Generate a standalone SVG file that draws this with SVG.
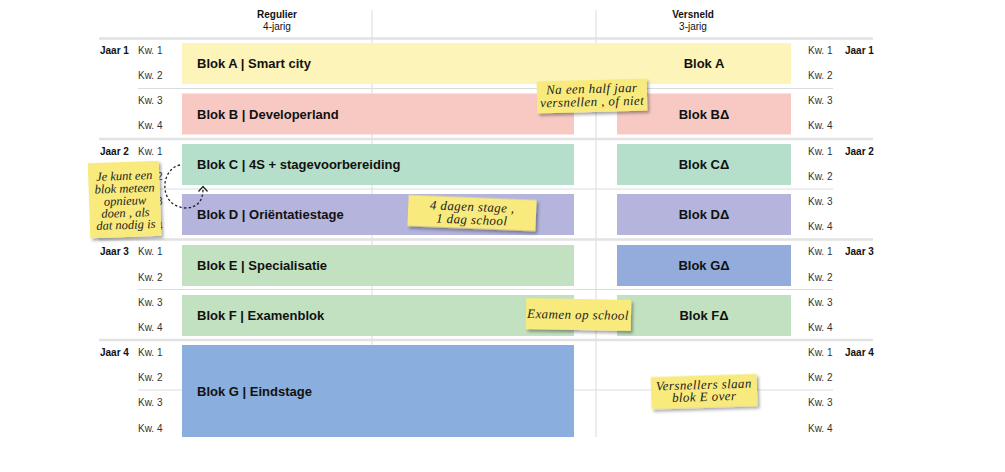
<svg xmlns="http://www.w3.org/2000/svg" width="1005" height="472" viewBox="0 0 1005 472">
  <defs>
    <style>
      .hdr { font-family: "Liberation Sans", Arial, sans-serif; font-size: 10px; fill: #111; text-anchor: middle; }
      .hdr-b { font-weight: bold; }
      .kw { font-family: "Liberation Sans", Arial, sans-serif; font-size: 10px; fill: #333; }
      .jaar { font-family: "Liberation Sans", Arial, sans-serif; font-size: 10px; font-weight: bold; fill: #111; }
      .blk { font-family: "Liberation Sans", Arial, sans-serif; font-size: 13px; font-weight: bold; fill: #111; }
      .blk-c { text-anchor: middle; }
      .yline { stroke: #e2e2e2; stroke-width: 2.5; }
      .hline { stroke: #dcdcdc; stroke-width: 1; }
      .vline { stroke: #dadada; stroke-width: 1; }
      .note { fill: #f8ea7c; }
      .note-t { font-family: "Liberation Serif", "DejaVu Serif", serif; font-style: italic; font-size: 13px; letter-spacing: 0.4px; fill: #222; text-anchor: middle; }
      .note-s { font-size: 12.5px; letter-spacing: 0; }
      .conn { fill: none; stroke: #222; stroke-width: 1.3; stroke-dasharray: 2.4 2.2; }
    </style>
    <filter id="shadow" x="-20%" y="-20%" width="150%" height="160%">
      <feDropShadow dx="2" dy="2.5" stdDeviation="1.4" flood-color="#000" flood-opacity="0.35"/>
    </filter>
  </defs>

  <rect width="1005" height="472" fill="#fff"/>

  <!-- grid -->
  <g id="grid">
    <line class="vline" x1="372" y1="10" x2="372" y2="437"/>
    <line class="vline" x1="596" y1="10" x2="596" y2="437"/>
    <line class="yline" x1="99" y1="38.5" x2="873" y2="38.5"/>
    <line class="yline" x1="99" y1="139" x2="873" y2="139"/>
    <line class="yline" x1="99" y1="239.5" x2="873" y2="239.5"/>
    <line class="yline" x1="99" y1="340" x2="873" y2="340"/>
    <line class="hline" x1="138" y1="88.5" x2="833" y2="88.5"/>
    <line class="hline" x1="138" y1="189" x2="833" y2="189"/>
    <line class="hline" x1="138" y1="289.5" x2="833" y2="289.5"/>
    <line class="hline" x1="138" y1="390" x2="833" y2="390"/>
  </g>

  <!-- column headers -->
  <g id="headers">
    <text class="hdr hdr-b" x="277" y="18">Regulier</text>
    <text class="hdr" x="277" y="30">4-jarig</text>
    <text class="hdr hdr-b" x="693" y="18">Versneld</text>
    <text class="hdr" x="693" y="30">3-jarig</text>
  </g>

  <!-- row labels, left -->
  <g id="labels-left">
    <text class="jaar" x="100" y="54">Jaar 1</text>
    <text class="jaar" x="100" y="155">Jaar 2</text>
    <text class="jaar" x="100" y="255">Jaar 3</text>
    <text class="jaar" x="100" y="356">Jaar 4</text>
    <text class="kw" x="138" y="54">Kw. 1</text>
    <text class="kw" x="138" y="79">Kw. 2</text>
    <text class="kw" x="138" y="104">Kw. 3</text>
    <text class="kw" x="138" y="129">Kw. 4</text>
    <text class="kw" x="138" y="155">Kw. 1</text>
    <text class="kw" x="138" y="180">Kw. 2</text>
    <text class="kw" x="138" y="205">Kw. 3</text>
    <text class="kw" x="138" y="230">Kw. 4</text>
    <text class="kw" x="138" y="255">Kw. 1</text>
    <text class="kw" x="138" y="281">Kw. 2</text>
    <text class="kw" x="138" y="306">Kw. 3</text>
    <text class="kw" x="138" y="331">Kw. 4</text>
    <text class="kw" x="138" y="356">Kw. 1</text>
    <text class="kw" x="138" y="381">Kw. 2</text>
    <text class="kw" x="138" y="406">Kw. 3</text>
    <text class="kw" x="138" y="432">Kw. 4</text>
  </g>

  <!-- row labels, right -->
  <g id="labels-right">
    <text class="jaar" x="845" y="54">Jaar 1</text>
    <text class="jaar" x="845" y="155">Jaar 2</text>
    <text class="jaar" x="845" y="255">Jaar 3</text>
    <text class="jaar" x="845" y="356">Jaar 4</text>
    <text class="kw" x="808" y="54">Kw. 1</text>
    <text class="kw" x="808" y="79">Kw. 2</text>
    <text class="kw" x="808" y="104">Kw. 3</text>
    <text class="kw" x="808" y="129">Kw. 4</text>
    <text class="kw" x="808" y="155">Kw. 1</text>
    <text class="kw" x="808" y="180">Kw. 2</text>
    <text class="kw" x="808" y="205">Kw. 3</text>
    <text class="kw" x="808" y="230">Kw. 4</text>
    <text class="kw" x="808" y="255">Kw. 1</text>
    <text class="kw" x="808" y="281">Kw. 2</text>
    <text class="kw" x="808" y="306">Kw. 3</text>
    <text class="kw" x="808" y="331">Kw. 4</text>
    <text class="kw" x="808" y="356">Kw. 1</text>
    <text class="kw" x="808" y="381">Kw. 2</text>
    <text class="kw" x="808" y="406">Kw. 3</text>
    <text class="kw" x="808" y="432">Kw. 4</text>
  </g>

  <!-- blocks: regular track -->
  <g id="blok-a">
    <rect x="182" y="43" width="609" height="41" fill="#fdf4b9"/>
    <text class="blk" x="197" y="68">Blok A | Smart city</text>
    <text class="blk blk-c" x="704" y="68">Blok A</text>
  </g>
  <g id="blok-b">
    <rect x="182" y="93.5" width="392" height="41" fill="#f8c9c3"/>
    <text class="blk" x="197" y="118.5">Blok B | Developerland</text>
  </g>
  <g id="blok-c">
    <rect x="182" y="144" width="392" height="41" fill="#b5dfca"/>
    <text class="blk" x="197" y="169">Blok C | 4S + stagevoorbereiding</text>
  </g>
  <g id="blok-d">
    <rect x="182" y="194" width="392" height="41" fill="#b4b4dc"/>
    <text class="blk" x="197" y="219">Blok D | Oriëntatiestage</text>
  </g>
  <g id="blok-e">
    <rect x="182" y="245" width="392" height="41" fill="#c2e1c0"/>
    <text class="blk" x="197" y="270">Blok E | Specialisatie</text>
  </g>
  <g id="blok-f">
    <rect x="182" y="295" width="392" height="41" fill="#c2e1c0"/>
    <text class="blk" x="197" y="320">Blok F | Examenblok</text>
  </g>
  <g id="blok-g">
    <rect x="182" y="345" width="392" height="92" fill="#8aaedd"/>
    <text class="blk" x="197" y="396">Blok G | Eindstage</text>
  </g>

  <!-- blocks: accelerated track -->
  <g id="blok-b-delta">
    <rect x="617" y="93.5" width="174" height="41" fill="#f8c9c3"/>
    <text class="blk blk-c" x="704" y="118.5">Blok BΔ</text>
  </g>
  <g id="blok-c-delta">
    <rect x="617" y="144" width="174" height="41" fill="#b5dfca"/>
    <text class="blk blk-c" x="704" y="169">Blok CΔ</text>
  </g>
  <g id="blok-d-delta">
    <rect x="617" y="194" width="174" height="41" fill="#b4b4dc"/>
    <text class="blk blk-c" x="704" y="219">Blok DΔ</text>
  </g>
  <g id="blok-g-delta">
    <rect x="617" y="245" width="174" height="41" fill="#93acdc"/>
    <text class="blk blk-c" x="704" y="270">Blok GΔ</text>
  </g>
  <g id="blok-f-delta">
    <rect x="617" y="295" width="174" height="41" fill="#c2e1c0"/>
    <text class="blk blk-c" x="704" y="320">Blok FΔ</text>
  </g>

  <!-- connectors -->
  <g id="connectors">
    <path class="conn" d="M180,165 C160,169 158,206 185,208 C198,208 203,200 203,189"/>
    <polyline fill="none" stroke="#222" stroke-width="1.3" points="198.5,191.5 203,186.5 207.5,191.5"/>
  </g>

  <!-- sticky notes -->
  <g id="note-versnellen" transform="rotate(-1.5 592 96)">
    <rect class="note" filter="url(#shadow)" x="537" y="80" width="110" height="32"/>
    <text class="note-t" x="592" y="93">Na een half jaar</text>
    <text class="note-t" x="592" y="106">versnellen , of niet</text>
  </g>
  <g id="note-opnieuw" transform="rotate(-2 125 199)">
    <rect class="note" filter="url(#shadow)" x="89" y="162" width="71" height="75"/>
    <text class="note-t note-s" x="125" y="180">Je kunt een</text>
    <text class="note-t note-s" x="125" y="192.5">blok meteen</text>
    <text class="note-t note-s" x="125" y="205">opnieuw</text>
    <text class="note-t note-s" x="125" y="217">doen , als</text>
    <text class="note-t note-s" x="125" y="229">dat nodig is</text>
  </g>
  <g id="note-stage" transform="rotate(2.3 472 213)">
    <rect class="note" filter="url(#shadow)" x="408" y="197.5" width="128" height="31"/>
    <text class="note-t" x="472" y="211">4 dagen stage ,</text>
    <text class="note-t" x="472" y="224">1 dag school</text>
  </g>
  <g id="note-examen" transform="rotate(1 578 315)">
    <rect class="note" filter="url(#shadow)" x="526" y="299" width="105" height="31"/>
    <text class="note-t" x="578" y="319">Examen op school</text>
  </g>
  <g id="note-blok-e" transform="rotate(-1.8 704 391)">
    <rect class="note" filter="url(#shadow)" x="651" y="375.5" width="106" height="32"/>
    <text class="note-t" x="704" y="389">Versnellers slaan</text>
    <text class="note-t" x="704" y="401">blok E over</text>
  </g>
</svg>
